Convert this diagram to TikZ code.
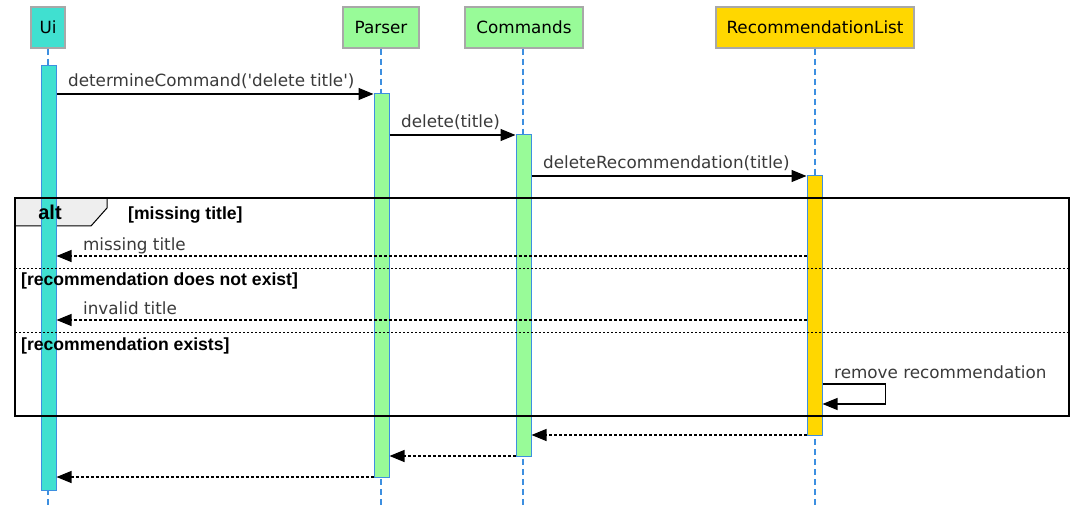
\documentclass[tikz,border=0pt]{standalone}
\usepackage{fontspec}
\setmainfont{DejaVu Sans}
\newfontfamily\msgfont{DejaVu Sans}
\newfontfamily\guardfont{Liberation Sans}
\usetikzlibrary{arrows.meta}
\definecolor{uicol}{HTML}{40E0D0}
\definecolor{partgreen}{HTML}{98FB98}
\definecolor{listgold}{HTML}{FFD700}
\definecolor{headgrey}{HTML}{A8A8A8}
\definecolor{lifeblue}{HTML}{3D8FE0}
\definecolor{msggrey}{HTML}{3A3A3A}
\definecolor{tabgrey}{HTML}{EEEEEE}

\begin{document}
\begin{tikzpicture}[x=1pt,y=-1pt,
    head/.style={draw=headgrey, line width=1.5pt, minimum height=41pt, inner sep=0pt, font=\fontsize{16.8}{17}\selectfont},
    life/.style={draw=lifeblue, line width=1.2pt, dash pattern=on 6pt off 4pt},
    actbar/.style={draw=lifeblue, line width=1pt, minimum width=15pt, inner sep=0pt},
    msg/.style={line width=1.2pt, -{Triangle[length=15pt,width=12pt]}},
    ret/.style={msg, dash pattern=on 2.5pt off 2.5pt},
    msgtext/.style={font=\msgfont\fontsize{16.8}{17}\selectfont, text=msggrey, inner sep=0pt, anchor=base west},
    guard/.style={font=\guardfont\bfseries\fontsize{17.6}{18}\selectfont, inner sep=0pt, anchor=base west}]
    \useasboundingbox (0,0) rectangle (1076,513);
    %% Participants
    \node[head, fill=uicol, minimum width=34pt] (ui) at (48,27.5) {Ui};
    \node[head, fill=partgreen, minimum width=76pt] (parser) at (381,27.5) {Parser};
    \node[head, fill=partgreen, minimum width=118pt] (commands) at (524,27.5) {Commands};
    \node[head, fill=listgold, minimum width=198pt] (reclist) at (815,27.5) {RecommendationList};
    %% Lifelines
    \draw[life] (ui.south) -- ++(0,456);
    \draw[life] (parser.south) -- ++(0,456);
    \draw[life] (commands.south -| 523,0) -- ++(0,456);
    \draw[life] (reclist.south) -- ++(0,456);
    %% Alt frame corners and tab
    \coordinate (altnw) at (15,198);
    \coordinate (altse) at (1069,416);
    \draw[fill=tabgrey, line width=1pt] (altnw) -- ++(92,0) -- ++(0,10) -- ++(-16,18) -- (altnw |- 0,226) -- cycle;
    %% Activations
    \node[actbar, fill=uicol, minimum height=424pt] (uiact) at (48.5,278) {};
    \node[actbar, fill=partgreen, minimum height=383pt] (parseract) at (381.5,285.5) {};
    \node[actbar, fill=partgreen, minimum height=321pt] (commandsact) at (523.5,295.5) {};
    \node[actbar, fill=listgold, minimum height=259pt] (reclistact) at (814.5,305.5) {};
    %% Frame
    \draw[line width=2pt] (altnw) rectangle (altse);
    \draw[line width=1pt, dash pattern=on 2pt off 2pt] (altnw |- 0,268) -- (altse |- 0,268);
    \draw[line width=1pt, dash pattern=on 2pt off 2pt] (altnw |- 0,332) -- (altse |- 0,332);
    \node[font=\guardfont\bfseries\fontsize{20}{20}\selectfont, inner sep=0pt, anchor=base] (alttag) at (50,220) {alt};
    \node[guard] (g1) at (128,219) {[missing title]};
    \node[guard] (g2) at (21,285) {[recommendation does not exist]};
    \node[guard] (g3) at (21,350) {[recommendation exists]};
    %% Calls
    \draw[msg] (uiact.east |- 0,94) -- (parseract.west |- 0,94)
        node[pos=0, msgtext, xshift=11pt, yshift=7pt] (m1) {determineCommand('delete title')};
    \draw[msg] (parseract.east |- 0,135) -- (commandsact.west |- 0,135)
        node[pos=0, msgtext, xshift=11pt, yshift=7pt] (m2) {delete(title)};
    \draw[msg] (commandsact.east |- 0,176) -- (reclistact.west |- 0,176)
        node[pos=0, msgtext, xshift=11pt, yshift=7pt] (m3) {deleteRecommendation(title)};
    %% Returns inside alt
    \draw[ret] (reclistact.west |- 0,256) -- (uiact.east |- 0,256)
        node[pos=1, msgtext, xshift=26pt, yshift=6pt] (r1) {missing title};
    \draw[ret] (reclistact.west |- 0,320) -- (uiact.east |- 0,320)
        node[pos=1, msgtext, xshift=26pt, yshift=6pt] (r2) {invalid title};
    %% Self call
    \draw[msg] (reclistact.east |- 0,384) -- ++(63,0) -- ++(0,20) -- (reclistact.east |- 0,404);
    \node[msgtext] (s1) at (834,378) {remove recommendation};
    %% Returns
    \draw[ret] (reclistact.west |- 0,435) -- (commandsact.east |- 0,435);
    \draw[ret] (commandsact.west |- 0,456) -- (parseract.east |- 0,456);
    \draw[ret] (parseract.west |- 0,477) -- (uiact.east |- 0,477);
\end{tikzpicture}
\end{document}
